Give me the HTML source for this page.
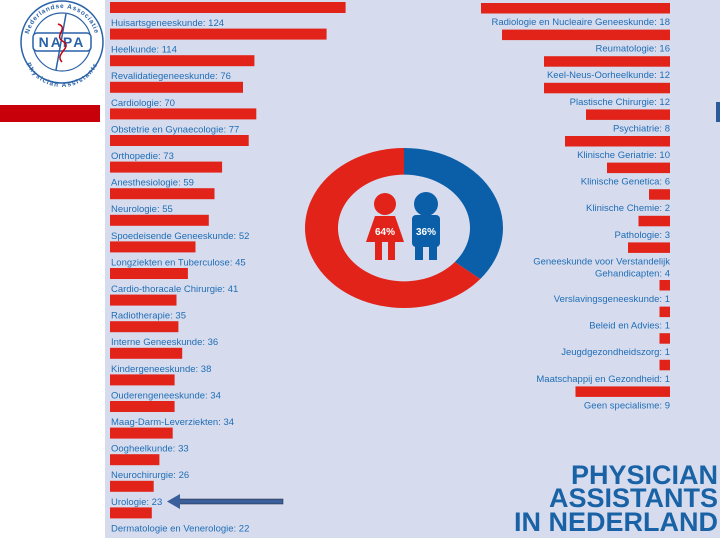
<!DOCTYPE html>
<html><head><meta charset="utf-8">
<style>
html,body{margin:0;padding:0;background:#fff;}
svg{display:block;font-family:"Liberation Sans",sans-serif;}
</style></head>
<body>
<svg id="chart" width="720" height="540" viewBox="0 0 720 540">
  <rect x="105" y="0" width="615" height="538" fill="#d6dcee"/>
  <rect x="0" y="105" width="100" height="17" fill="#c8000a"/>
  <rect x="716" y="102" width="4" height="20" fill="#2a5a9a"/>
  <g>
    <circle cx="62" cy="42" r="41" fill="#fff" stroke="#2a62a8" stroke-width="1.5"/>
    <circle cx="62" cy="42" r="29" fill="none" stroke="#2a62a8" stroke-width="1.2"/>
    <defs>
      <path id="topArc" d="M28,42 A34,34 0 0 1 96,42"/>
      <path id="botArc" d="M27,48 A35,35 0 0 0 97,48"/>
    </defs>
    <text font-size="6.5" font-weight="bold" fill="#2a62a8" letter-spacing="0.8"><textPath href="#topArc" startOffset="50%" text-anchor="middle">Nederlandse Associatie</textPath></text>
    <text font-size="6.5" font-weight="bold" fill="#2a62a8" letter-spacing="0.8"><textPath href="#botArc" startOffset="50%" text-anchor="middle" dominant-baseline="hanging">Physician Assistants</textPath></text>
    <rect x="33" y="33" width="58" height="18" rx="4" fill="#fff" stroke="#2a62a8" stroke-width="1.5"/>
    <text x="62" y="47" font-size="14" font-weight="bold" fill="#2a62a8" text-anchor="middle" letter-spacing="2">NAPA</text>
    <path d="M66,14 L56,70" stroke="#2a62a8" stroke-width="1.5"/>
    <path d="M58,24 C70,28 52,36 64,42 C72,48 54,54 62,62" stroke="#c8000a" stroke-width="1.5" fill="none"/>
  </g>
  <g id="leftBars"></g>
  <g id="rightBars"></g>
  <g id="donut"></g>
  <g>
    <ellipse cx="385" cy="204" rx="11" ry="11" fill="#e2231a"/>
    <path d="M375,216 L395,216 L402,236 L404,242 L366,242 L368,236 Z" fill="#e2231a"/>
    <rect x="375" y="240" width="7" height="20" fill="#e2231a"/>
    <rect x="388" y="240" width="7" height="20" fill="#e2231a"/>
    <text x="385" y="235" font-size="10" font-weight="bold" fill="#fff" text-anchor="middle">64%</text>
  </g>
  <g>
    <ellipse cx="426" cy="204" rx="12" ry="12" fill="#0a5fa8"/>
    <rect x="412" y="215" width="28" height="32" rx="4" fill="#0a5fa8"/>
    <rect x="415" y="243" width="8" height="17" fill="#0a5fa8"/>
    <rect x="429" y="243" width="8" height="17" fill="#0a5fa8"/>
    <text x="426" y="235" font-size="10" font-weight="bold" fill="#fff" text-anchor="middle">36%</text>
  </g>
  <g>
    <rect x="178" y="499" width="105" height="5" fill="#3a5f9a" stroke="#223" stroke-width="0.5"/>
    <path d="M167,501.5 L180,494 L180,509 Z" fill="#3a5f9a"/>
  </g>
  <g font-weight="bold" fill="#1a62a6" font-size="27" text-anchor="end">
    <text x="718" y="484">PHYSICIAN</text>
    <text x="718" y="507">ASSISTANTS</text>
    <text x="718" y="531">IN NEDERLAND</text>
  </g>
</svg>
<script>
const leftCategories = ["Huisartsgeneeskunde","Heelkunde","Revalidatiegeneeskunde","Cardiologie","Obstetrie en Gynaecologie","Orthopedie","Anesthesiologie","Neurologie","Spoedeisende Geneeskunde","Longziekten en Tuberculose","Cardio-thoracale Chirurgie","Radiotherapie","Interne Geneeskunde","Kindergeneeskunde","Ouderengeneeskunde","Maag-Darm-Leverziekten","Oogheelkunde","Neurochirurgie","Urologie","Dermatologie en Venerologie"];
const leftValues = [124,114,76,70,77,73,59,55,52,45,41,35,36,38,34,34,33,26,23,22];
const rightCategories = ["Radiologie en Nucleaire Geneeskunde","Reumatologie","Keel-Neus-Oorheelkunde","Plastische Chirurgie","Psychiatrie","Klinische Geriatrie","Klinische Genetica","Klinische Chemie","Pathologie","Geneeskunde voor Verstandelijk|Gehandicapten","Verslavingsgeneeskunde","Beleid en Advies","Jeugdgezondheidszorg","Maatschappij en Gezondheid","Geen specialisme"];
const rightValues = [18,16,12,12,8,10,6,2,3,4,1,1,1,1,9];
const genderLabels = ["Man","Vrouw"];
const genderValues = [36,64];

const NS = "http://www.w3.org/2000/svg";
function mk(tag, attrs, parent){const e=document.createElementNS(NS,tag);for(const k in attrs)e.setAttribute(k,attrs[k]);parent.appendChild(e);return e;}

const lx = v => v*1.9;
const ly = i => 2 + i*26.6;
const lg = document.getElementById("leftBars");
leftCategories.forEach((c,i)=>{
  const r = mk("rect",{x:110,y:ly(i),width:lx(leftValues[i]),height:11,fill:"#e2231a"},lg);
  
  
  const t = mk("text",{x:111,y:ly(i)+24,"font-size":"9.5",fill:"#1f6db5"},lg);
  t.textContent = c + ": " + leftValues[i];
  
  
});

const rx = v => v*10.5;
const rg = document.getElementById("rightBars");
rightCategories.forEach((c,i)=>{
  const y = 3 + (i<=9 ? i*26.6 : i*26.6 + 11);
  const w = rx(rightValues[i]);
  const r = mk("rect",{x:670-w,y:y,width:w,height:10.5,fill:"#e2231a"},rg);
  
  
  const parts = c.split("|");
  parts.forEach((p,j)=>{
    const t = mk("text",{x:670,y:y+22+j*12,"font-size":"9.5",fill:"#1f6db5","text-anchor":"end"},rg);
    t.textContent = p + (j===parts.length-1 ? ": " + rightValues[i] : "");
    
    
  });
});

const cx=404, cy=228, Ro=99, Ri=66, sy=80/99;
const dg = document.getElementById("donut");
const total = genderValues.reduce((a,b)=>a+b,0);
const colors = ["#0a5fa8","#e2231a"];
let a0 = -Math.PI/2;
genderValues.forEach((v,i)=>{
  const a1 = a0 + v/total*2*Math.PI;
  const large = (a1-a0)>Math.PI?1:0;
  const p = (r,a)=>[cx+r*Math.cos(a), cy+r*sy*Math.sin(a)];
  const [x0,y0]=p(Ro,a0),[x1,y1]=p(Ro,a1),[x2,y2]=p(Ri,a1),[x3,y3]=p(Ri,a0);
  const d=`M${x0},${y0} A${Ro},${Ro*sy} 0 ${large} 1 ${x1},${y1} L${x2},${y2} A${Ri},${Ri*sy} 0 ${large} 0 ${x3},${y3} Z`;
  const path = mk("path",{d:d,fill:colors[i]},dg);
  
  
  a0 = a1;
});
</script>
</body></html>
